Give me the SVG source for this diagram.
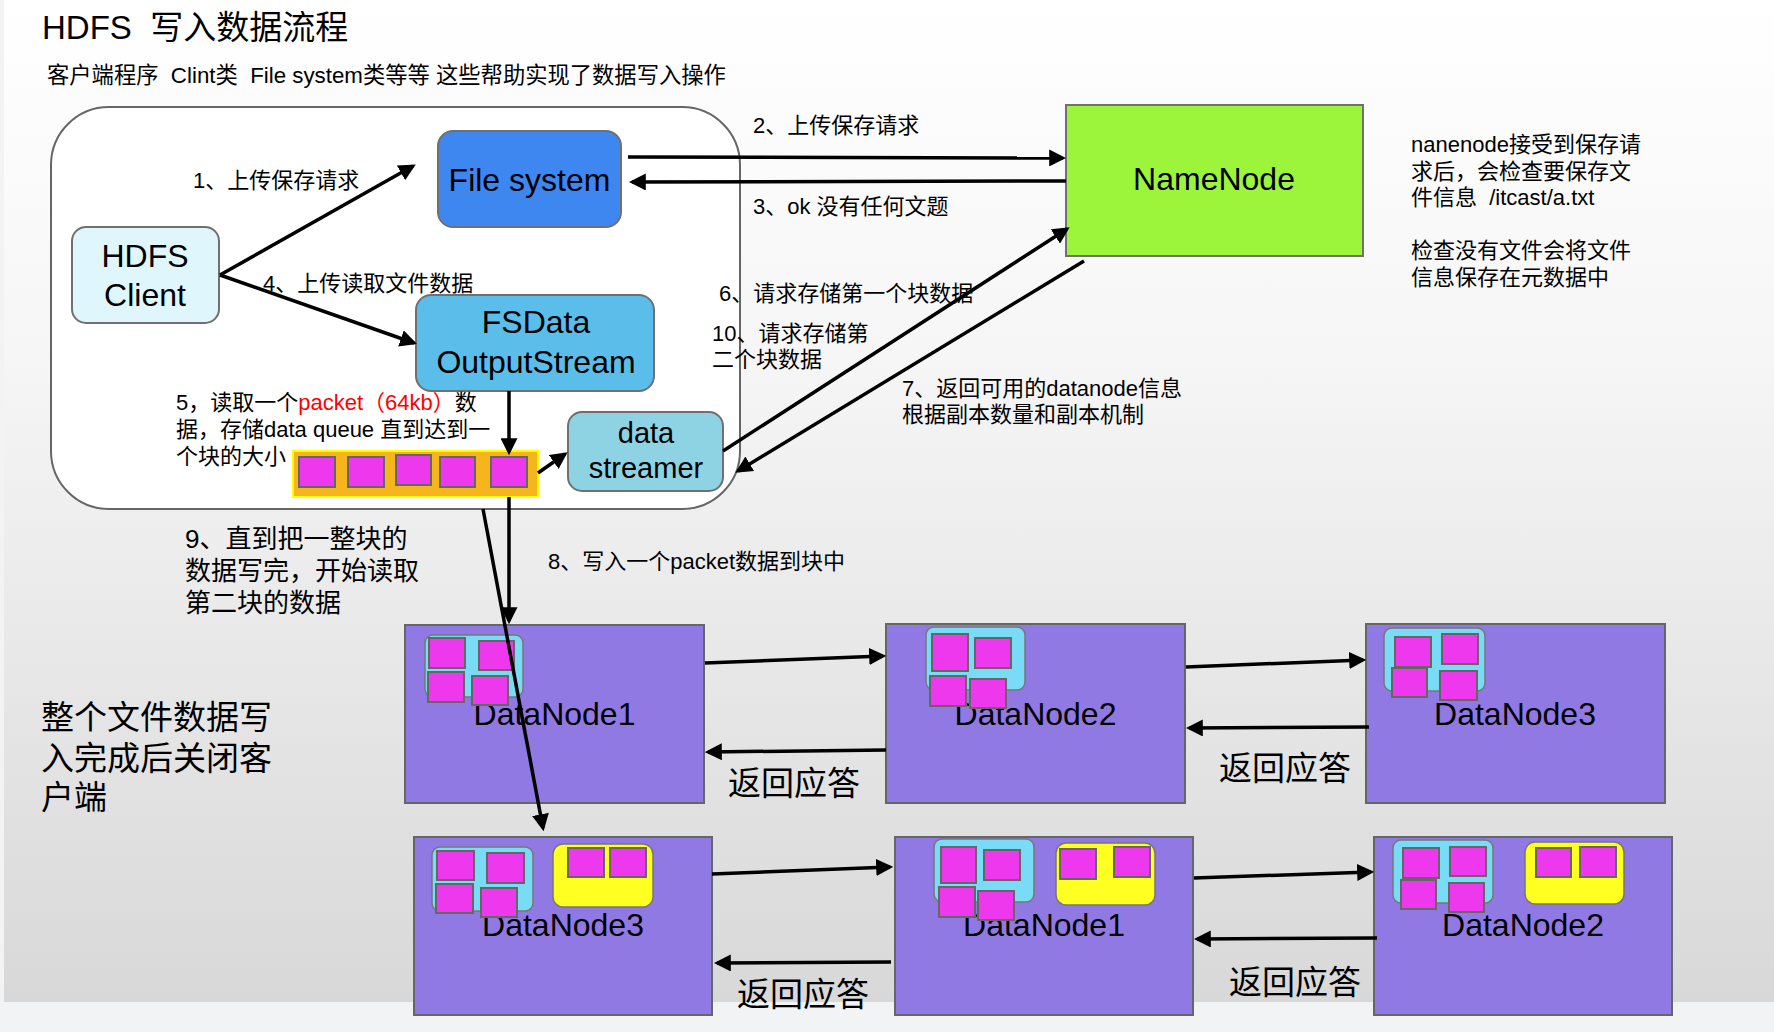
<svg xmlns="http://www.w3.org/2000/svg" width="1774" height="1032" viewBox="0 0 1774 1032">
<defs>
<linearGradient id="bg" x1="0" y1="0" x2="0" y2="1">
<stop offset="0" stop-color="#ffffff"/>
<stop offset="0.35" stop-color="#f6f6f6"/>
<stop offset="1" stop-color="#d8d8d8"/>
</linearGradient>
<marker id="ah" markerUnits="userSpaceOnUse" markerWidth="17" markerHeight="17" viewBox="0 0 16 16" refX="13" refY="8" orient="auto">
<path d="M0,0 L16,8 L0,16 z" fill="#000"/>
</marker>
<style>
text{font-family:"Liberation Sans","Noto Sans CJK SC",sans-serif;fill:#000}
.t22{font-size:22px}
.t26{font-size:26px}
.t33{font-size:33px}
.big{font-size:32px;text-anchor:middle}
.red{fill:#ff0000}
.box{stroke:#707070;stroke-width:2}
.dn{fill:#9079E3;stroke:#666;stroke-width:2}
.cy{fill:#79DBF5;stroke:#777;stroke-width:1.5}
.ye{fill:#FFFF22;stroke:#777;stroke-width:1.5}
.sq{fill:#EE38EE;stroke:#666;stroke-width:2}
.ln{stroke:#000;stroke-width:3.5;fill:none;marker-end:url(#ah)}
</style>
</defs>
<rect x="0" y="0" width="1774" height="1032" fill="#f2f3f5"/>
<rect x="4" y="0" width="1770" height="1002" fill="url(#bg)"/>

<text x="42" y="39" style="font-size:33px" xml:space="preserve">HDFS  写入数据流程</text>
<text x="47" y="83" class="t22" xml:space="preserve" style="font-size:22.3px">客户端程序  Clint类  File system类等等 这些帮助实现了数据写入操作</text>

<g id="client-area">
<rect x="51" y="107" width="689" height="402" rx="58" ry="58" fill="#ffffff" stroke="#666" stroke-width="2"/>
</g>

<g id="hdfs-client">
<rect x="72" y="227" width="147" height="96" rx="14" fill="#DFF6FD" class="box"/>
<text x="145" y="267" class="big">HDFS</text>
<text x="145" y="306" class="big">Client</text>
</g>

<g id="file-system">
<rect x="438" y="131" width="183" height="96" rx="15" fill="#3E86F0" class="box"/>
<text x="529.5" y="191" class="big">File system</text>
</g>

<g id="fsdata">
<rect x="416" y="295" width="238" height="96" rx="15" fill="#5ABDEA" class="box"/>
<text x="536" y="333" class="big">FSData</text>
<text x="536" y="373" class="big">OutputStream</text>
</g>

<g id="data-streamer">
<rect x="568" y="412" width="155" height="79" rx="14" fill="#8DD3E4" class="box"/>
<text x="646" y="443" class="big" style="font-size:29px">data</text>
<text x="646" y="478" class="big" style="font-size:29px">streamer</text>
</g>

<g id="queue">
<rect x="293" y="451" width="245" height="46" fill="#F6B51D" stroke="#FFFF00" stroke-width="2"/>
<rect x="299" y="457" width="36" height="30" class="sq"/>
<rect x="348" y="457" width="36" height="30" class="sq"/>
<rect x="396" y="455" width="35" height="30" class="sq"/>
<rect x="440" y="457" width="35" height="30" class="sq"/>
<rect x="491" y="457" width="36" height="30" class="sq"/>
</g>

<g id="namenode">
<rect x="1066" y="105" width="297" height="151" fill="#9CF53A" class="box"/>
<text x="1214" y="190" class="big">NameNode</text>
</g>

<g id="dn1-top">
<rect x="405" y="625" width="299" height="178" class="dn"/>
<text x="554.5" y="725" class="big">DataNode1</text>
<rect x="425" y="635" width="98" height="62" rx="8" class="cy"/>
<rect x="429" y="638" width="36" height="30" class="sq"/>
<rect x="479" y="641" width="35" height="29" class="sq"/>
<rect x="428" y="672" width="36" height="30" class="sq"/>
<rect x="472" y="676" width="36" height="29" class="sq"/>
</g>

<g id="dn2-top">
<rect x="886" y="624" width="299" height="179" class="dn"/>
<text x="1035.5" y="725" class="big">DataNode2</text>
<rect x="926" y="627" width="99" height="63" rx="8" class="cy"/>
<rect x="932" y="634" width="36" height="37" class="sq"/>
<rect x="975" y="638" width="36" height="30" class="sq"/>
<rect x="930" y="676" width="36" height="30" class="sq"/>
<rect x="970" y="679" width="36" height="29" class="sq"/>
</g>

<g id="dn3-top">
<rect x="1366" y="624" width="299" height="179" class="dn"/>
<text x="1515" y="725" class="big">DataNode3</text>
<rect x="1384" y="628" width="101" height="63" rx="8" class="cy"/>
<rect x="1395" y="637" width="36" height="30" class="sq"/>
<rect x="1442" y="634" width="36" height="30" class="sq"/>
<rect x="1392" y="668" width="35" height="29" class="sq"/>
<rect x="1440" y="671" width="37" height="29" class="sq"/>
</g>

<g id="dn3-bottom">
<rect x="414" y="837" width="298" height="178" class="dn"/>
<text x="563" y="936" class="big">DataNode3</text>
<rect x="432" y="847" width="101" height="64" rx="8" class="cy"/>
<rect x="437" y="851" width="37" height="29" class="sq"/>
<rect x="487" y="853" width="37" height="30" class="sq"/>
<rect x="436" y="884" width="37" height="29" class="sq"/>
<rect x="481" y="888" width="36" height="29" class="sq"/>
<rect x="553" y="844" width="100" height="63" rx="10" class="ye"/>
<rect x="568" y="848" width="36" height="29" class="sq"/>
<rect x="610" y="848" width="36" height="29" class="sq"/>
</g>

<g id="dn1-bottom">
<rect x="895" y="837" width="298" height="178" class="dn"/>
<text x="1044" y="936" class="big">DataNode1</text>
<rect x="934" y="839" width="100" height="63" rx="8" class="cy"/>
<rect x="941" y="847" width="35" height="36" class="sq"/>
<rect x="984" y="850" width="36" height="30" class="sq"/>
<rect x="939" y="887" width="36" height="30" class="sq"/>
<rect x="978" y="891" width="36" height="29" class="sq"/>
<rect x="1056" y="843" width="99" height="62" rx="10" class="ye"/>
<rect x="1060" y="849" width="36" height="30" class="sq"/>
<rect x="1114" y="847" width="36" height="30" class="sq"/>
</g>

<g id="dn2-bottom">
<rect x="1374" y="837" width="298" height="178" class="dn"/>
<text x="1523" y="936" class="big">DataNode2</text>
<rect x="1393" y="840" width="100" height="63" rx="8" class="cy"/>
<rect x="1403" y="848" width="36" height="30" class="sq"/>
<rect x="1450" y="847" width="36" height="29" class="sq"/>
<rect x="1401" y="880" width="35" height="29" class="sq"/>
<rect x="1449" y="883" width="35" height="29" class="sq"/>
<rect x="1525" y="842" width="99" height="62" rx="10" class="ye"/>
<rect x="1536" y="848" width="35" height="29" class="sq"/>
<rect x="1580" y="847" width="36" height="30" class="sq"/>
</g>

<g id="labels">
<text x="193" y="188" class="t22">1、上传保存请求</text>
<text x="263" y="291" class="t22">4、上传读取文件数据</text>
<text x="176" y="410" class="t22">5，读取一个<tspan class="red">packet（64kb）</tspan>数</text>
<text x="176" y="437" class="t22">据，存储data queue 直到达到一</text>
<text x="176" y="464" class="t22">个块的大小</text>
<text x="753" y="133" class="t22">2、上传保存请求</text>
<text x="753" y="214" class="t22">3、ok 没有任何文题</text>
<text x="719" y="301" class="t22">6、请求存储第一个块数据</text>
<text x="712" y="341" class="t22">10、请求存储第</text>
<text x="712" y="367" class="t22">二个块数据</text>
<text x="902" y="396" class="t22">7、返回可用的datanode信息</text>
<text x="902" y="422" class="t22">根据副本数量和副本机制</text>
<text x="1411" y="152" class="t22">nanenode接受到保存请</text>
<text x="1411" y="179" class="t22">求后，会检查要保存文</text>
<text x="1411" y="205" class="t22" xml:space="preserve">件信息  /itcast/a.txt</text>
<text x="1411" y="258" class="t22">检查没有文件会将文件</text>
<text x="1411" y="285" class="t22">信息保存在元数据中</text>
<text x="185" y="548" class="t26">9、直到把一整块的</text>
<text x="185" y="580" class="t26">数据写完，开始读取</text>
<text x="185" y="612" class="t26">第二块的数据</text>
<text x="548" y="569" class="t22">8、写入一个packet数据到块中</text>
<text x="41" y="729" class="t33">整个文件数据写</text>
<text x="41" y="770" class="t33">入完成后关闭客</text>
<text x="41" y="809" class="t33">户端</text>
<text x="728" y="795" class="t33">返回应答</text>
<text x="1219" y="780" class="t33">返回应答</text>
<text x="737" y="1006" class="t33">返回应答</text>
<text x="1229" y="994" class="t33">返回应答</text>
</g>

<g id="connectors">
<line x1="220" y1="275" x2="413" y2="166" class="ln"/>
<line x1="220" y1="275" x2="414" y2="343" class="ln"/>
<line x1="628" y1="157" x2="1063" y2="158" class="ln"/>
<line x1="1066" y1="181" x2="632" y2="182" class="ln"/>
<line x1="723" y1="451" x2="1067" y2="229" class="ln"/>
<line x1="1084" y1="261" x2="738" y2="471" class="ln"/>
<line x1="509" y1="391" x2="509" y2="452" class="ln"/>
<line x1="538" y1="473" x2="565" y2="454" class="ln"/>
<line x1="509" y1="497" x2="509" y2="621" class="ln"/>
<line x1="483" y1="509" x2="543" y2="828" class="ln"/>
<line x1="705" y1="663" x2="883" y2="656" class="ln"/>
<line x1="886" y1="750" x2="708" y2="752" class="ln"/>
<line x1="1186" y1="667" x2="1363" y2="660" class="ln"/>
<line x1="1369" y1="727" x2="1189" y2="728" class="ln"/>
<line x1="712" y1="874" x2="890" y2="867" class="ln"/>
<line x1="891" y1="962" x2="717" y2="963" class="ln"/>
<line x1="1194" y1="878" x2="1371" y2="872" class="ln"/>
<line x1="1377" y1="938" x2="1197" y2="939" class="ln"/>
</g>
</svg>
